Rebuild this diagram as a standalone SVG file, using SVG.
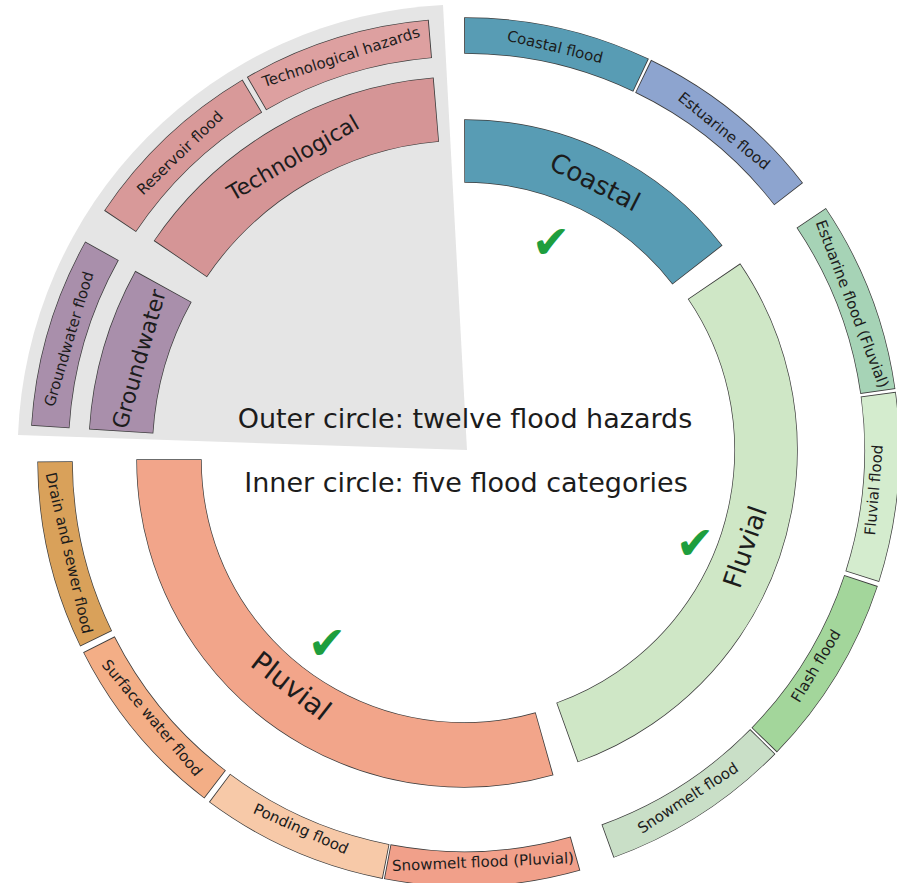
<svg xmlns="http://www.w3.org/2000/svg" width="897" height="883" viewBox="0 0 897 883">
<style>
.e{fill:none;stroke:#3c3c3c}
.w{fill:none}
text{font-family:"DejaVu Sans","Liberation Sans",sans-serif;fill:#1c1c1c;text-anchor:middle;dominant-baseline:central}
.lo{font-size:15px}
.ck{font-size:46px;fill:#1e9e3e}
.ttl{font-size:27px;dominant-baseline:auto}
</style>
<rect width="897" height="883" fill="#fff"/>
<path id="gray-sector" d="M467 450 L18 435 A448 448 0 0 1 443 5 Z" fill="#e5e5e5"/>

<g id="coastal">
 <circle class="e" cx="465" cy="445" r="294" stroke-width="63.4" pathLength="360" stroke-dasharray="52.4 720" transform="rotate(-90.15 465 445)"/>
 <circle class="w" cx="465" cy="445" r="294" stroke="#589cb4" stroke-width="62" pathLength="360" stroke-dasharray="52.1 720" transform="rotate(-90 465 445)"/>
 <text x="595" y="182" font-size="26" transform="rotate(27 595 182)">Coastal</text>
</g>
<g id="coastal-flood">
 <circle class="e" cx="465" cy="445" r="409.5" stroke-width="36.4" pathLength="360" stroke-dasharray="25.59 720" transform="rotate(-90.12 465 445)"/>
 <circle class="w" cx="465" cy="445" r="409.5" stroke="#589cb4" stroke-width="35" pathLength="360" stroke-dasharray="25.35 720" transform="rotate(-90 465 445)"/>
 <text class="lo" x="555" y="47" transform="rotate(13.5 555 47)">Coastal flood</text>
</g>
<g id="estuarine-flood">
 <circle class="e" cx="465" cy="445" r="409.5" stroke-width="36.4" pathLength="360" stroke-dasharray="26.44 720" transform="rotate(-64.22 465 445)"/>
 <circle class="w" cx="465" cy="445" r="409.5" stroke="#8da4cf" stroke-width="35" pathLength="360" stroke-dasharray="26.2 720" transform="rotate(-64.1 465 445)"/>
 <text class="lo" x="724" y="131" transform="rotate(39 724 131)">Estuarine flood</text>
</g>

<g id="fluvial">
 <circle class="e" cx="466" cy="450" r="300" stroke-width="63.4" pathLength="360" stroke-dasharray="104.6 720" transform="rotate(-34.25 466 450)"/>
 <circle class="w" cx="466" cy="450" r="300" stroke="#cfe7c6" stroke-width="62" pathLength="360" stroke-dasharray="104.3 720" transform="rotate(-34.1 466 450)"/>
 <text x="745" y="547" font-size="26" transform="rotate(-71 745 547)">Fluvial</text>
</g>
<g id="estuarine-flood-fluvial">
 <circle class="e" cx="466" cy="450" r="416" stroke-width="35.4" pathLength="360" stroke-dasharray="25.84 720" transform="rotate(-33.92 466 450)"/>
 <circle class="w" cx="466" cy="450" r="416" stroke="#a6d3b6" stroke-width="34" pathLength="360" stroke-dasharray="25.6 720" transform="rotate(-33.8 466 450)"/>
 <text class="lo" x="852" y="304" transform="rotate(69 852 304)">Estuarine flood (Fluvial)</text>
</g>
<g id="fluvial-flood">
 <circle class="e" cx="466" cy="450" r="416" stroke-width="35.4" pathLength="360" stroke-dasharray="25.44 720" transform="rotate(-7.72 466 450)"/>
 <circle class="w" cx="466" cy="450" r="416" stroke="#d4ecce" stroke-width="34" pathLength="360" stroke-dasharray="25.2 720" transform="rotate(-7.6 466 450)"/>
 <text class="lo" x="874" y="490" transform="rotate(-85 874 490)">Fluvial flood</text>
</g>
<g id="flash-flood">
 <circle class="e" cx="466" cy="450" r="416" stroke-width="35.4" pathLength="360" stroke-dasharray="25.94 720" transform="rotate(18.28 466 450)"/>
 <circle class="w" cx="466" cy="450" r="416" stroke="#a3d69b" stroke-width="34" pathLength="360" stroke-dasharray="25.7 720" transform="rotate(18.4 466 450)"/>
 <text class="lo" x="816" y="666" transform="rotate(-59 816 666)">Flash flood</text>
</g>
<g id="snowmelt-flood">
 <circle class="e" cx="466" cy="450" r="416" stroke-width="35.4" pathLength="360" stroke-dasharray="25.64 720" transform="rotate(44.48 466 450)"/>
 <circle class="w" cx="466" cy="450" r="416" stroke="#c9dfc7" stroke-width="34" pathLength="360" stroke-dasharray="25.4 720" transform="rotate(44.6 466 450)"/>
 <text class="lo" x="688" y="798" transform="rotate(-33 688 798)">Snowmelt flood</text>
</g>

<g id="pluvial">
 <circle class="e" cx="464" cy="460" r="295" stroke-width="65.4" pathLength="360" stroke-dasharray="106 720" transform="rotate(74.15 464 460)"/>
 <circle class="w" cx="464" cy="460" r="295" stroke="#f2a58a" stroke-width="64" pathLength="360" stroke-dasharray="105.7 720" transform="rotate(74.3 464 460)"/>
 <text x="291" y="686" font-size="28" transform="rotate(38 291 686)">Pluvial</text>
</g>
<g id="snowmelt-flood-pluvial">
 <circle class="e" cx="464" cy="460" r="409" stroke-width="35.4" pathLength="360" stroke-dasharray="26.64 720" transform="rotate(74.18 464 460)"/>
 <circle class="w" cx="464" cy="460" r="409" stroke="#f1a08a" stroke-width="34" pathLength="360" stroke-dasharray="26.4 720" transform="rotate(74.3 464 460)"/>
 <text class="lo" x="483" y="862" transform="rotate(-2.5 483 862)">Snowmelt flood (Pluvial)</text>
</g>
<g id="ponding-flood">
 <circle class="e" cx="464" cy="460" r="409" stroke-width="35.4" pathLength="360" stroke-dasharray="25.74 720" transform="rotate(100.98 464 460)"/>
 <circle class="w" cx="464" cy="460" r="409" stroke="#f7c9a8" stroke-width="34" pathLength="360" stroke-dasharray="25.5 720" transform="rotate(101.1 464 460)"/>
 <text class="lo" x="301" y="829" transform="rotate(24 301 829)">Ponding flood</text>
</g>
<g id="surface-water-flood">
 <circle class="e" cx="464" cy="460" r="409" stroke-width="35.4" pathLength="360" stroke-dasharray="25.74 720" transform="rotate(127.48 464 460)"/>
 <circle class="w" cx="464" cy="460" r="409" stroke="#f3ae86" stroke-width="34" pathLength="360" stroke-dasharray="25.5 720" transform="rotate(127.6 464 460)"/>
 <text class="lo" x="152" y="718" transform="rotate(50 152 718)">Surface water flood</text>
</g>
<g id="drain-and-sewer-flood">
 <circle class="e" cx="464" cy="460" r="409" stroke-width="35.4" pathLength="360" stroke-dasharray="25.74 720" transform="rotate(154.08 464 460)"/>
 <circle class="w" cx="464" cy="460" r="409" stroke="#d9a15a" stroke-width="34" pathLength="360" stroke-dasharray="25.5 720" transform="rotate(154.2 464 460)"/>
 <text class="lo" x="69" y="553" transform="rotate(77 69 553)">Drain and sewer flood</text>
</g>

<g id="groundwater">
 <circle class="e" cx="465" cy="453" r="344.5" stroke-width="64.4" pathLength="360" stroke-dasharray="25.36 720" transform="rotate(183.57 465 453)"/>
 <circle class="w" cx="465" cy="453" r="344.5" stroke="#a98fab" stroke-width="63" pathLength="360" stroke-dasharray="25.1 720" transform="rotate(183.7 465 453)"/>
 <text x="139" y="359" font-size="22" transform="rotate(-74 139 359)">Groundwater</text>
</g>
<g id="technological">
 <circle class="e" cx="465" cy="453" r="344.5" stroke-width="64.4" pathLength="360" stroke-dasharray="50.96 720" transform="rotate(214.27 465 453)"/>
 <circle class="w" cx="465" cy="453" r="344.5" stroke="#d59596" stroke-width="63" pathLength="360" stroke-dasharray="50.7 720" transform="rotate(214.4 465 453)"/>
 <text x="293" y="158" font-size="22" transform="rotate(-30 293 158)">Technological</text>
</g>
<g id="groundwater-flood">
 <circle class="e" cx="465" cy="453" r="415.5" stroke-width="38.4" pathLength="360" stroke-dasharray="25.54 720" transform="rotate(183.58 465 453)"/>
 <circle class="w" cx="465" cy="453" r="415.5" stroke="#a98fab" stroke-width="37" pathLength="360" stroke-dasharray="25.3 720" transform="rotate(183.7 465 453)"/>
 <text class="lo" x="69" y="339" transform="rotate(-73.5 69 339)">Groundwater flood</text>
</g>
<g id="reservoir-flood">
 <circle class="e" cx="465" cy="453" r="415.5" stroke-width="38.4" pathLength="360" stroke-dasharray="25.34 720" transform="rotate(213.88 465 453)"/>
 <circle class="w" cx="465" cy="453" r="415.5" stroke="#d89999" stroke-width="37" pathLength="360" stroke-dasharray="25.1 720" transform="rotate(214 465 453)"/>
 <text class="lo" x="180" y="153" transform="rotate(-44 180 153)">Reservoir flood</text>
</g>
<g id="technological-hazards">
 <circle class="e" cx="465" cy="453" r="415.5" stroke-width="38.4" pathLength="360" stroke-dasharray="25.34 720" transform="rotate(239.88 465 453)"/>
 <circle class="w" cx="465" cy="453" r="415.5" stroke="#dda0a0" stroke-width="37" pathLength="360" stroke-dasharray="25.1 720" transform="rotate(240 465 453)"/>
 <text class="lo" x="341" y="57" transform="rotate(-18 341 57)">Technological hazards</text>
</g>

<g id="checks">
 <text class="ck" x="551" y="242">✔</text>
 <text class="ck" x="695" y="543">✔</text>
 <text class="ck" x="327" y="643">✔</text>
</g>
<g id="titles">
 <text class="ttl" x="465" y="428">Outer circle: twelve flood hazards</text>
 <text class="ttl" x="466" y="492">Inner circle: five flood categories</text>
</g>
</svg>
